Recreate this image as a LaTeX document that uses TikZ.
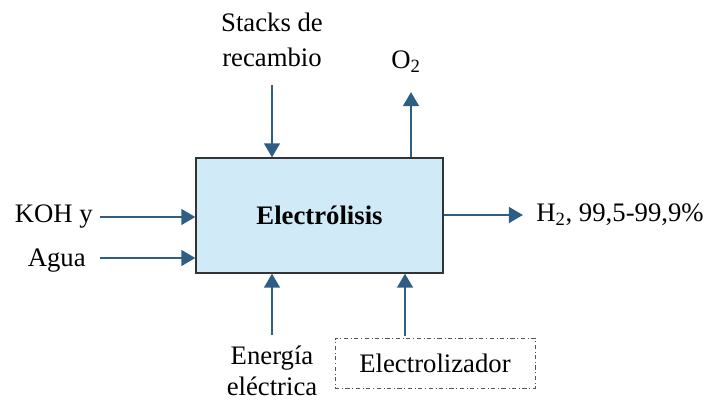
\documentclass[tikz,border=0pt]{standalone}
\usepackage{fontspec}
\setmainfont{Liberation Serif}
\usetikzlibrary{arrows.meta, positioning}
\definecolor{flow}{HTML}{2E5E84}
\definecolor{boxfill}{HTML}{D0EAF8}
\definecolor{boxline}{HTML}{333333}
\definecolor{dashline}{HTML}{555555}

\begin{document}
\begin{tikzpicture}[
    x=0.025cm, y=-0.025cm,
    every node/.style={font=\fontsize{19}{22}\selectfont, inner sep=0pt},
    proc/.style={draw=boxline, fill=boxfill, line width=0.8pt, minimum width=6.175cm, minimum height=2.875cm, font=\fontsize{19}{22}\selectfont\bfseries},
    equipo/.style={draw=dashline, dash dot, line width=0.6pt, minimum width=5cm, minimum height=1.25cm},
    flujo/.style={flow, line width=2.1pt, -{Triangle[length=10pt, width=11pt]}},
    lab/.style={align=center},
]
\useasboundingbox (0,0) rectangle (708,400);

% ---------------- process block
\node[proc] (elec) at (319.5, 215.5) {Electrólisis};

% ---------------- inputs on the left
\node[anchor=east] (koh) at (93, 217) {KOH y};
\node[anchor=east] (agua) at (86, 261) {Agua};
\coordinate (kohs) at (100, 217);
\coordinate (aguas) at (100, 258);
\draw[flujo] (kohs) -- (elec.west |- kohs);
\draw[flujo] (aguas) -- (elec.west |- aguas);

% ---------------- input on top
\node[lab] (stacks) at (272, 40) {Stacks de\\[3pt]recambio};
\coordinate (stackss) at (272, 85);
\draw[flujo] (stackss) -- (elec.north -| stackss);

% ---------------- outputs
\node (o2) at (406, 62) {O\textsubscript{2}};
\coordinate (o2e) at (411, 92);
\draw[flujo] (elec.north -| o2e) -- (o2e);

\node[anchor=west] (h2) at (536, 215) {H\textsubscript{2}, 99,5-99,9\%};
\coordinate (h2e) at (523, 215);
\draw[flujo] (elec.east |- h2e) -- (h2e);

% ---------------- inputs below
\node[lab] (energia) at (272, 371) {Energía\\eléctrica};
\coordinate (energias) at (272, 335);
\draw[flujo] (energias) -- (elec.south -| energias);

\node[equipo] (electrolizador) at (435, 363) {Electrolizador};
\coordinate (equipos) at (405, 336);
\draw[flujo] (equipos) -- (elec.south -| equipos);
\end{tikzpicture}
\end{document}
